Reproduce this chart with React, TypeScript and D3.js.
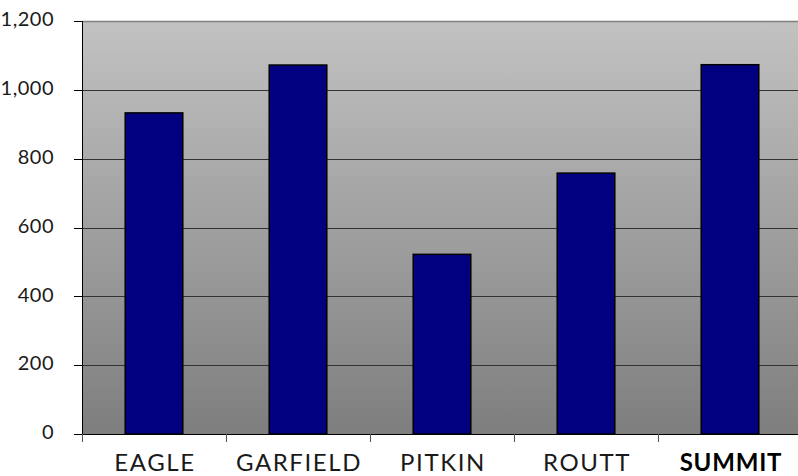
import React, { useRef, useEffect } from "react";
import * as d3 from "d3";

const categories = ["EAGLE", "GARFIELD", "PITKIN", "ROUTT", "SUMMIT"];
const values = [933, 1072, 522, 758, 1073];
const yTicks = [0, 200, 400, 600, 800, 1000, 1200];

const W = 798;
const H = 476;
const left = 82;
const top = 21;
const plotRight = 802;
const plotBottom = 434;

export default function App() {
  const svgRef = useRef<SVGSVGElement>(null);

  useEffect(() => {
    if (!svgRef.current) return;
    const svg = d3.select(svgRef.current);
    svg.selectAll("*").remove();

    const x = d3
      .scaleBand<string>()
      .domain(categories)
      .range([left, plotRight])
      .paddingInner(0.6)
      .paddingOuter(0.3);
    const step = (plotRight - left) / categories.length;
    const y = d3.scaleLinear().domain([0, 1200]).range([plotBottom, top]);

    const defs = svg.append("defs");
    const grad = defs
      .append("linearGradient")
      .attr("id", "bg")
      .attr("x1", 0)
      .attr("y1", 0)
      .attr("x2", 0)
      .attr("y2", 1);
    grad.append("stop").attr("offset", "0%").attr("stop-color", "#c2c2c2");
    grad.append("stop").attr("offset", "100%").attr("stop-color", "#7e7e7e");

    svg
      .append("rect")
      .attr("x", left)
      .attr("y", top)
      .attr("width", plotRight - left)
      .attr("height", plotBottom - top)
      .attr("fill", "url(#bg)");

    // top border
    svg
      .append("line")
      .attr("x1", left)
      .attr("x2", plotRight)
      .attr("y1", top + 0.5)
      .attr("y2", top + 0.5)
      .attr("stroke", "#808080")
      .attr("stroke-width", 1.5);

    // gridlines
    svg
      .selectAll(".grid")
      .data(yTicks.filter((d) => d > 0 && d < 1200))
      .enter()
      .append("line")
      .attr("x1", left)
      .attr("x2", plotRight)
      .attr("y1", (d) => Math.round(y(d)) + 0.5)
      .attr("y2", (d) => Math.round(y(d)) + 0.5)
      .attr("stroke", "#333")
      .attr("stroke-width", 1);

    // bars
    svg
      .selectAll(".bar")
      .data(values)
      .enter()
      .append("rect")
      .attr("x", (d, i) => left + step * i + step * 0.3)
      .attr("y", (d) => y(d))
      .attr("width", step * 0.4)
      .attr("height", (d) => plotBottom - y(d))
      .attr("fill", "#000080")
      .attr("stroke", "#000")
      .attr("stroke-width", 1.5);

    // y axis
    svg
      .append("line")
      .attr("x1", left + 0.5)
      .attr("x2", left + 0.5)
      .attr("y1", top)
      .attr("y2", plotBottom)
      .attr("stroke", "#000");
    svg
      .selectAll(".ytick")
      .data(yTicks)
      .enter()
      .append("line")
      .attr("x1", left - 8)
      .attr("x2", left)
      .attr("y1", (d) => Math.round(y(d)) + 0.5)
      .attr("y2", (d) => Math.round(y(d)) + 0.5)
      .attr("stroke", "#000");
    svg
      .selectAll(".ylab")
      .data(yTicks)
      .enter()
      .append("text")
      .attr("x", 54)
      .attr("y", (d) => y(d) - 2)
      .attr("dy", "0.36em")
      .attr("text-anchor", "end")
      .attr("font-family", "Lato, 'Noto Sans', sans-serif")
      .attr("font-size", 20)
      .attr("letter-spacing", 0.5)
      .attr("fill", "#1a1a1a")
      .text((d) => d3.format(",")(d));

    // x axis
    svg
      .append("line")
      .attr("x1", left)
      .attr("x2", plotRight)
      .attr("y1", plotBottom + 0.5)
      .attr("y2", plotBottom + 0.5)
      .attr("stroke", "#000");
    svg
      .selectAll(".xtick")
      .data(d3.range(categories.length + 1))
      .enter()
      .append("line")
      .attr("x1", (d) => left + step * d + 0.5)
      .attr("x2", (d) => left + step * d + 0.5)
      .attr("y1", plotBottom)
      .attr("y2", plotBottom + 8)
      .attr("stroke", "#555");
    svg
      .selectAll(".xlab")
      .data(categories)
      .enter()
      .append("text")
      .attr("x", (d) => (x(d) ?? 0) + x.bandwidth() / 2 + 1)
      .attr("y", 471)
      .attr("text-anchor", "middle")
      .attr("font-family", "Lato, 'Noto Sans', sans-serif")
      .attr("font-size", 24)
      .attr("letter-spacing", (d) => (d === "SUMMIT" ? 0.8 : 1.6))
      .attr("font-weight", (d) => (d === "SUMMIT" ? 700 : 400))
      .attr("fill", (d) => (d === "SUMMIT" ? "#000" : "#1a1a1a"))
      .text((d) => d);
  }, []);

  return (
    <svg
      ref={svgRef}
      width={W}
      height={H}
      style={{ position: "absolute", left: 0, top: 0, background: "#fff" }}
    />
  );
}
